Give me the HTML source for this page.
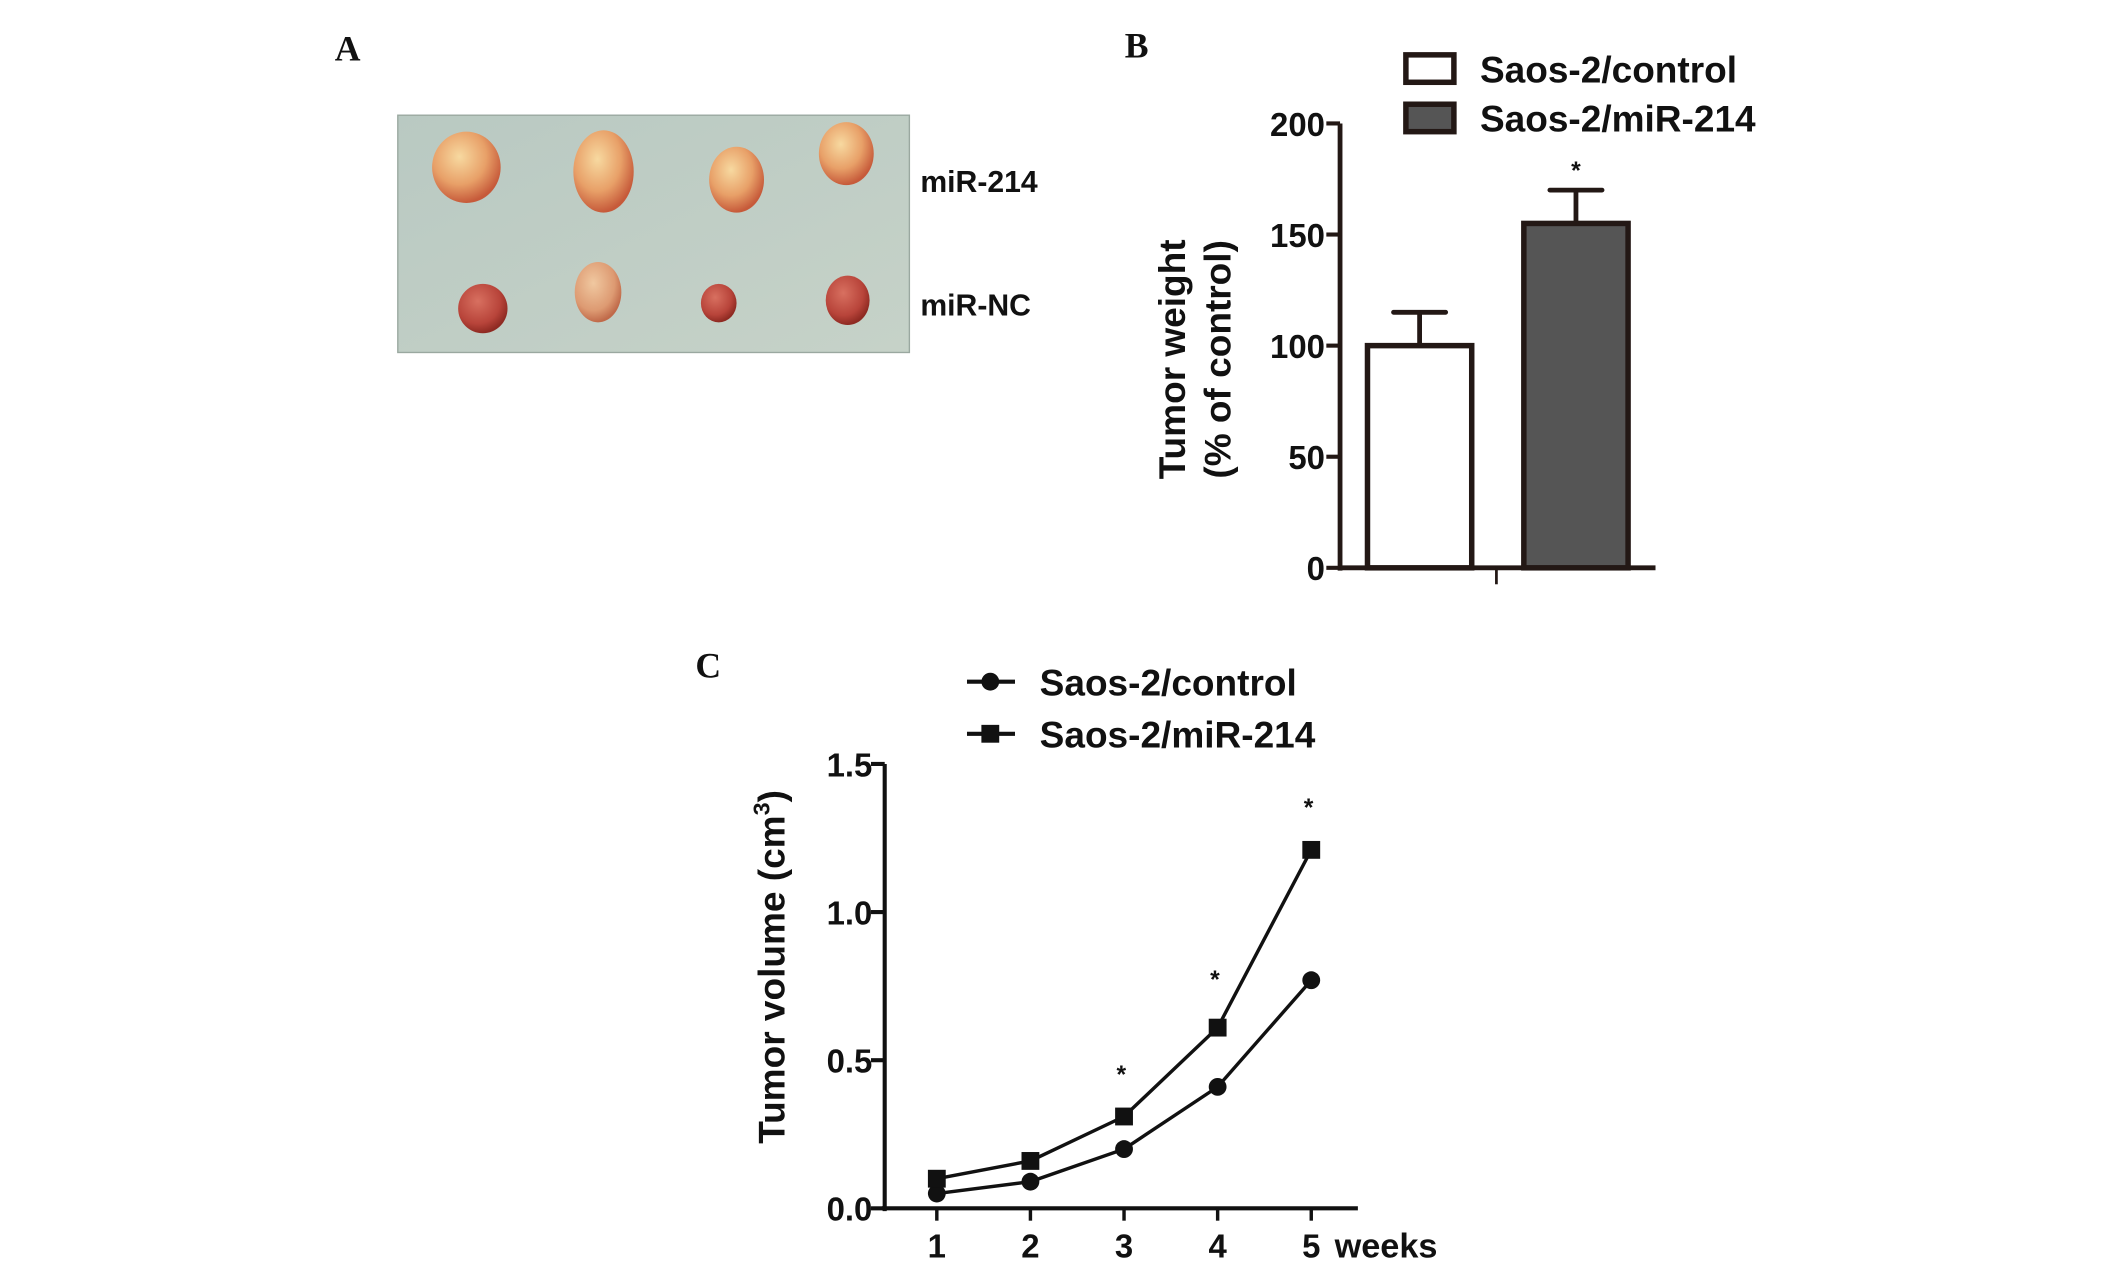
<!DOCTYPE html>
<html><head><meta charset="utf-8"><style>
html,body{margin:0;padding:0;background:#fff;}
svg{display:block;}
text{font-family:"Liberation Sans",Arial,sans-serif;font-weight:bold;fill:#111;}
.serif{font-family:"Liberation Serif",serif;}
</style></head><body>
<svg id="fig" width="2126" height="1268" viewBox="0 0 1550 924.5">
<defs>
<radialGradient id="tumorY" cx="40%" cy="35%" r="65%"><stop offset="0" stop-color="#f7d9a0"/><stop offset="0.6" stop-color="#e8a068"/><stop offset="1" stop-color="#c65a3a"/></radialGradient>
<radialGradient id="tumorR" cx="40%" cy="35%" r="65%"><stop offset="0" stop-color="#d87060"/><stop offset="0.7" stop-color="#b8443a"/><stop offset="1" stop-color="#8e2a22"/></radialGradient>
<radialGradient id="tumorP" cx="40%" cy="35%" r="65%"><stop offset="0" stop-color="#f0c8a0"/><stop offset="0.7" stop-color="#dd9a72"/><stop offset="1" stop-color="#c06a4a"/></radialGradient>
<linearGradient id="bg" x1="0" y1="0" x2="1" y2="1"><stop offset="0" stop-color="#b9c9c2"/><stop offset="1" stop-color="#c6d2c8"/></linearGradient>
</defs>
<text class="serif" x="244" y="44" font-size="26">A</text>
<g>
<rect x="290" y="84" width="373" height="173" fill="url(#bg)" stroke="#9aa8a0" stroke-width="1"/>
<ellipse cx="340" cy="122" rx="25" ry="26" fill="url(#tumorY)"/>
<ellipse cx="440" cy="125" rx="22" ry="30" fill="url(#tumorY)"/>
<ellipse cx="537" cy="131" rx="20" ry="24" fill="url(#tumorY)"/>
<ellipse cx="617" cy="112" rx="20" ry="23" fill="url(#tumorY)"/>
<ellipse cx="352" cy="225" rx="18" ry="18" fill="url(#tumorR)"/>
<ellipse cx="436" cy="213" rx="17" ry="22" fill="url(#tumorP)"/>
<ellipse cx="524" cy="221" rx="13" ry="14" fill="url(#tumorR)"/>
<ellipse cx="618" cy="219" rx="16" ry="18" fill="url(#tumorR)"/>
</g>
<text x="671" y="140" font-size="22">miR-214</text>
<text x="671" y="230" font-size="22">miR-NC</text>
<text class="serif" x="820" y="42" font-size="26">B</text>
<g id="chartB"></g>
<text class="serif" x="507" y="494" font-size="26">C</text>
<g id="chartC"></g>
</svg>
<script>
const NS="http://www.w3.org/2000/svg";
function mk(parent,tag,attrs,txt){const e=document.createElementNS(NS,tag);for(const k in attrs)e.setAttribute(k,attrs[k]);if(txt!==undefined)e.textContent=txt;parent.appendChild(e);return e;}

// ---- Panel B data ----
const barCategories=["Saos-2/control","Saos-2/miR-214"];
const barValues=[100,155];
const barErrors=[15,15];
const barTicks=[0,50,100,150,200];
const barSig=["","*"];

// ---- Panel C data ----
const weeks=[1,2,3,4,5];
const controlVol=[0.05,0.09,0.2,0.41,0.77];
const mirVol=[0.1,0.16,0.31,0.61,1.21];
const volTicks=["0.0","0.5","1.0","1.5"];
const volSig=["","","*","*","*"];
const volSigLevel=[0,0,0.47,0.79,1.37];

(function(){
 const g=document.getElementById('chartB');
 const x0=977,yb=414,yt=90,ymax=200;
 const y=v=>yb-(v/ymax)*(yb-yt);
 const fills=["#ffffff","#555555"];
 const bx=[997,1111],bw=76;
 let e;
 e=mk(g,'line',{x1:x0,y1:y(ymax),x2:x0,y2:yb+2,stroke:"#231815","stroke-width":3.5});
 
 e=mk(g,'line',{x1:x0,y1:yb,x2:1207,y2:yb,stroke:"#231815","stroke-width":3.5});
 
 e=mk(g,'line',{x1:1091,y1:yb,x2:1091,y2:426,stroke:"#231815","stroke-width":2});
 
 barTicks.forEach(t=>{
  e=mk(g,'line',{x1:x0-10,y1:y(t),x2:x0,y2:y(t),stroke:"#231815","stroke-width":3});
  
  e=mk(g,'text',{x:x0-11,y:y(t)+9,"font-size":24,"text-anchor":"end"},String(t));
  
 });
 barValues.forEach((v,i)=>{
  const cx=bx[i]+bw/2;
  e=mk(g,'line',{x1:cx,y1:y(v),x2:cx,y2:y(v+barErrors[i]),stroke:"#231815","stroke-width":3.5});
  
  e=mk(g,'line',{x1:cx-19,y1:y(v+barErrors[i]),x2:cx+19,y2:y(v+barErrors[i]),stroke:"#231815","stroke-width":3.5,"stroke-linecap":"round"});
  
  e=mk(g,'rect',{x:bx[i],y:y(v),width:bw,height:yb-y(v),fill:fills[i],stroke:"#231815","stroke-width":4});
  
  if(barSig[i]){e=mk(g,'text',{x:cx,y:y(v+barErrors[i])-8,"font-size":18,"text-anchor":"middle"},barSig[i]);
  }
 });
 const tg=mk(g,'g',{transform:"translate(864,262) rotate(-90)"});
 e=mk(tg,'text',{x:0,y:0,"font-size":27,"text-anchor":"middle"},"Tumor weight");
 
 e=mk(tg,'text',{x:0,y:33,"font-size":27,"text-anchor":"middle"},"(% of control)");
 
 barCategories.forEach((c,i)=>{
  const ly=[40,76][i];
  e=mk(g,'rect',{x:1025,y:ly,width:35,height:20,fill:fills[i],stroke:"#231815","stroke-width":4});
  
  e=mk(g,'text',{x:1079,y:ly+20,"font-size":27},c);
  
 });
})();

(function(){
 const g=document.getElementById('chartC');
 const x0=645,xr=990,yb=881,yt=557,ymax=1.5;
 const y=v=>yb-(v/ymax)*(yb-yt);
 const x=w=>683+(w-1)*68.25;
 let e;
 e=mk(g,'line',{x1:x0,y1:yt,x2:x0,y2:yb+2,stroke:"#111","stroke-width":3});
 
 e=mk(g,'line',{x1:x0-2,y1:yb,x2:xr,y2:yb,stroke:"#111","stroke-width":3});
 
 volTicks.forEach(t=>{
  const v=parseFloat(t);
  e=mk(g,'line',{x1:x0-10,y1:y(v),x2:x0,y2:y(v),stroke:"#111","stroke-width":3});
  
  e=mk(g,'text',{x:x0-9,y:y(v)+9,"font-size":24,"text-anchor":"end"},t);
  
 });
 weeks.forEach((w,i)=>{
  e=mk(g,'line',{x1:x(w),y1:yb,x2:x(w),y2:yb+9,stroke:"#111","stroke-width":2.5});
  
  e=mk(g,'text',{x:x(w),y:917,"font-size":24,"text-anchor":"middle"},String(w));
  
 });
 e=mk(g,'text',{x:x(5)+17,y:917,"font-size":25},"weeks");
 
 const pts=a=>a.map((v,i)=>x(weeks[i])+","+y(v)).join(" ");
 e=mk(g,'polyline',{points:pts(controlVol),fill:"none",stroke:"#111","stroke-width":2.5});
 
 e=mk(g,'polyline',{points:pts(mirVol),fill:"none",stroke:"#111","stroke-width":2.5});
 
 controlVol.forEach((v,i)=>{
  e=mk(g,'circle',{cx:x(weeks[i]),cy:y(v),r:6.5,fill:"#111"});
  
 });
 mirVol.forEach((v,i)=>{
  e=mk(g,'rect',{x:x(weeks[i])-6.5,y:y(v)-6.5,width:13,height:13,fill:"#111"});
  
 });
 volSig.forEach((s,i)=>{
  if(!s)return;
  e=mk(g,'text',{x:x(weeks[i])-2,y:y(volSigLevel[i])+10,"font-size":18,"text-anchor":"middle",fill:"#333"},s);
  
 });
 const tg=mk(g,'g',{transform:"translate(572,705) rotate(-90)"});
 e=mk(tg,'text',{x:0,y:0,"font-size":27,"text-anchor":"middle"});
 
 e.appendChild(document.createTextNode("Tumor volume (cm"));
 mk(e,'tspan',{"font-size":17,dy:-11},"3");
 mk(e,'tspan',{dy:11},")");
 const names=["Saos-2/control","Saos-2/miR-214"];
 names.forEach((n,i)=>{
  const ly=[497,535][i];
  e=mk(g,'line',{x1:705,y1:ly,x2:740,y2:ly,stroke:"#111","stroke-width":3});
  
  if(i===0){e=mk(g,'circle',{cx:722,cy:ly,r:6.5,fill:"#111"});}
  else{e=mk(g,'rect',{x:715.5,y:ly-6.5,width:13,height:13,fill:"#111"});}
  
  e=mk(g,'text',{x:758,y:ly+10,"font-size":27},n);
  
 });
})();
</script>
</body></html>
